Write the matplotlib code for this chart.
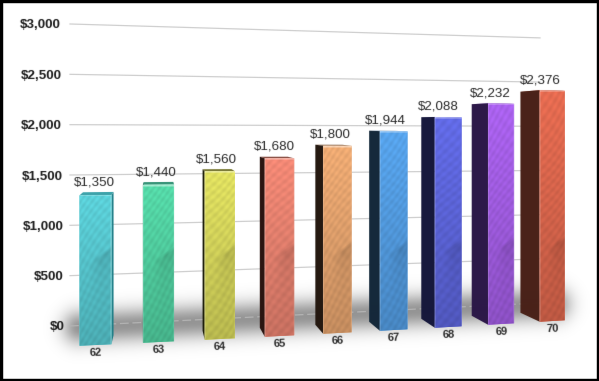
import numpy as np
import matplotlib
matplotlib.use("Agg")
import matplotlib.pyplot as plt
from matplotlib.patches import Polygon, Rectangle
from matplotlib.transforms import Transform, IdentityTransform
from matplotlib.colors import to_rgb

ages = ["62", "63", "64", "65", "66", "67", "68", "69", "70"]
values = [1350, 1440, 1560, 1680, 1800, 1944, 2088, 2232, 2376]
value_labels = ["$1,350", "$1,440", "$1,560", "$1,680", "$1,800", "$1,944", "$2,088", "$2,232", "$2,376"]
y_ticks = [0, 500, 1000, 1500, 2000, 2500, 3000]
y_tick_labels = ["$0", "$500", "$1,000", "$1,500", "$2,000", "$2,500", "$3,000"]
y_tick_pads = [5, 6, 6, 7, 8, 8.5, 9]
front_colors = ["#56c4cc", "#50cc9e", "#d2d25a", "#e4806e", "#e0a06c", "#529ade", "#5c64d8", "#a05ce0", "#d8654c"]
side_colors = ["#1f7f88", "#1c5a50", "#1c1c08", "#2a1410", "#241810", "#14283a", "#16183c", "#2c1848", "#4a2218"]

W, H = 599, 381
plt.rcParams["font.family"] = ["Liberation Sans", "DejaVu Sans"]


class BarPlane(Transform):
    """(category index, value) -> display pixels, at a depth t inside the bars."""
    input_dims = output_dims = 2
    has_inverse = False

    def __init__(self, t=0.0):
        super().__init__()
        self.t = t

    def transform_non_affine(self, xy):
        xy = np.asarray(xy, dtype=float)
        i, v = xy[:, 0], xy[:, 1]
        px = 95.5 + 63.9 * i - 0.85 * i ** 2 - self.t * 2.85 * (i - 1)
        py = 345 - 3.0 * i - 9 * self.t - (0.111 - 0.00175 * i - 0.0044 * self.t) * v
        return np.column_stack((px, H - py))


class WallPlane(Transform):
    """(fraction along the wall, value) -> display pixels."""
    input_dims = output_dims = 2
    has_inverse = False

    def transform_non_affine(self, xy):
        xy = np.asarray(xy, dtype=float)
        u, v = xy[:, 0], xy[:, 1]
        px = 70 + 470 * u
        py = 326 - 23 * u - (0.10067 - 0.0123 * u) * v
        return np.column_stack((px, H - py))


def soften(sigma):
    r = int(np.ceil(3 * sigma))
    k = np.exp(-0.5 * (np.arange(-r, r + 1) / sigma) ** 2)
    k /= k.sum()

    def blur(a):
        a = np.apply_along_axis(lambda c: np.convolve(c, k, mode="same"), 0, a)
        return np.apply_along_axis(lambda c: np.convolve(c, k, mode="same"), 1, a)

    def flt(img, dpi):
        img = np.pad(img, ((r, r), (r, r), (0, 0)))
        a = blur(img[..., 3])
        out = np.zeros_like(img)
        for c in range(3):
            out[..., c] = blur(img[..., c] * img[..., 3]) / np.maximum(a, 1e-4)
        out[..., 3] = a
        return np.clip(out, 0, 1), -r, -r
    return flt


fig = plt.figure(figsize=(W / 100, H / 100), dpi=100, facecolor="white")
ax = fig.add_axes([70 / W, (H - 326) / H, 470 / W, 302 / H], facecolor="none")
ax.set_autoscale_on(False)
ax.set_xlim(0, 1)
ax.set_ylim(0, 3000)
for s in ax.spines.values():
    s.set_visible(False)
ax.set_xticks([])
ax.set_yticks(y_ticks, y_tick_labels, fontsize=9.65, fontweight="bold", color="#1c1c1c")
ax.tick_params(axis="y", length=0)
for tick, pad in zip(ax.yaxis.get_major_ticks(), y_tick_pads):
    tick.set_pad(pad * 0.72)
    tick.label1.set_agg_filter(soften(0.45))

front = BarPlane(0.0)
back = BarPlane(1.0)
middle = BarPlane(0.5)
wall = WallPlane()

# soft ground shadow
(sx0, sy0), (sx1, sy1) = wall.transform(np.array([[0.02, -20.0], [1.03, -20.0]]))
gx, gy = np.meshgrid(np.arange(W) + 0.5, np.arange(H) + 0.5)
gy_d = H - gy
t = np.clip(((gx - sx0) * (sx1 - sx0) + (gy_d - sy0) * (sy1 - sy0)) / ((sx1 - sx0) ** 2 + (sy1 - sy0) ** 2), 0, 1)
dist2 = ((gx - (sx0 + t * (sx1 - sx0))) / 12.0) ** 2 + ((gy_d - (sy0 + t * (sy1 - sy0))) / 12.0) ** 2
shadow = np.zeros((H, W, 4))
shadow[..., 3] = 0.42 * np.exp(-0.5 * dist2)
ax.imshow(shadow, extent=(0, W, 0, H), transform=IdentityTransform(), aspect="auto", zorder=0.5,
          interpolation="bilinear").set_clip_box(fig.bbox)

# wall grid lines
for v in y_ticks:
    ax.plot([0, 1], [v, v], transform=wall, color="#b4b4b4" if v == 0 else "#cfcfcf", lw=0.9, clip_on=False, zorder=1,
            ls=(0, (7, 3)) if v == 0 else "-", agg_filter=soften(0.35))


def face_image(x0, x1, y0, y1, shade_y, color):
    cols = int(np.ceil(x1 - x0)) + 2
    rows = int(np.ceil(y1 - y0)) + 2
    X, Y = np.meshgrid(x0 - 1 + np.arange(cols) + 0.5, y0 - 1 + np.arange(rows) + 0.5)
    u = (X - x0) / (x1 - x0)
    vv = (Y - y0) / (y1 - y0)
    s = 1.07 - 0.2 * vv
    grain = (np.sin(1.1 * (X * 0.8 + Y * 0.6) + 4 * np.sin(Y / 31.0) + 3 * np.sin(X / 13.0))
             + 0.5 * np.sin(0.7 * (X * 0.6 - Y * 0.8) + 3 * np.sin(Y / 19.0)))
    s = s * (1 + 0.03 * grain)
    edge = Y - (shade_y + (x1 - X) * 0.7)
    mask = np.clip(edge / 4.0, 0, 1) * np.exp(-np.maximum(edge, 0) / 22.0) * np.clip((u - 0.3) / 0.4, 0, 1)
    s = s * (1 - 0.15 * mask)
    img = np.clip(np.array(to_rgb(color))[None, None, :] * s[..., None], 0, 1)
    top = np.clip(1 - (Y - y0) / 2.5, 0, 1)[..., None] * 0.55
    img = img * (1 - top) + top
    rim = np.clip(1 - np.minimum(X - x0, x1 - X) / 1.2, 0, 1)[..., None] * 0.2
    img = img * (1 - rim) + rim
    return img, (x0 - 1, x0 - 1 + cols, H - (y0 - 1 + rows), H - (y0 - 1))


half = 0.25
for i, (val, fc, sc) in enumerate(zip(values, front_colors, side_colors)):
    z = 2 + i * 0.1
    corners = np.vstack((front.transform(np.array([[i - half, val], [i + half, val]])),
                         back.transform(np.array([[i + half, val], [i - half, val]]))))
    lid_color = 0.5 * np.array(to_rgb(sc)) + 0.5 * np.array(to_rgb(fc))
    lid = Polygon(corners, closed=True, transform=IdentityTransform(), fc=lid_color, ec="none", zorder=z, clip_on=False)
    lid.set_agg_filter(soften(0.4))
    ax.add_patch(lid)
    edge_i = i + half if i < 1 else i - half
    side_pts = np.vstack((front.transform(np.array([[edge_i, val], [edge_i, 0.0]])),
                          back.transform(np.array([[edge_i, 0.0], [edge_i, val]]))))
    side = Polygon(side_pts, closed=True, transform=IdentityTransform(), fc=sc, ec="none", zorder=z + 0.01, clip_on=False)
    side.set_agg_filter(soften(0.4))
    ax.add_patch(side)
    face = Polygon([[i - half, val], [i + half, val], [i + half, 0], [i - half, 0]], closed=True,
                   transform=front, fc=fc, ec="none", zorder=z + 0.02, clip_on=False)
    ax.add_patch(face)
    p = front.transform(np.array([[i - half, val], [i + half, val], [i + half, 0.0], [i - half, 0.0]]))
    x0, x1 = p[:, 0].min(), p[:, 0].max()
    y0, y1 = H - p[:, 1].max(), H - p[:, 1].min()
    shade_y = H - front.transform(np.array([[i + half, 880.0]]))[0, 1]
    img, ext = face_image(x0, x1, y0, y1, shade_y, fc)
    im = ax.imshow(img, extent=ext, transform=IdentityTransform(), aspect="auto", zorder=z + 0.03,
                   interpolation="bilinear")
    im.set_clip_path(face)
    im.set_clip_box(fig.bbox)
    ax.annotate(value_labels[i], xy=(i, val), xycoords=middle, xytext=(-2.4, 11), textcoords="offset pixels",
                ha="center", va="center", fontsize=9.65, color="#262626", zorder=6,
                annotation_clip=False, agg_filter=soften(0.4))
    ax.annotate(ages[i], xy=(i, 0), xycoords=front, xytext=(0, -8), textcoords="offset pixels",
                ha="center", va="center", fontsize=8, fontweight="bold", color="#2a2a2a", rotation=2, zorder=6,
                annotation_clip=False, agg_filter=soften(0.4))

fig.add_artist(Rectangle((0, 0), 1, 1, transform=fig.transFigure, fill=False, ec="black", lw=3.9))
fig.savefig("out.png", dpi=100, facecolor="white")
